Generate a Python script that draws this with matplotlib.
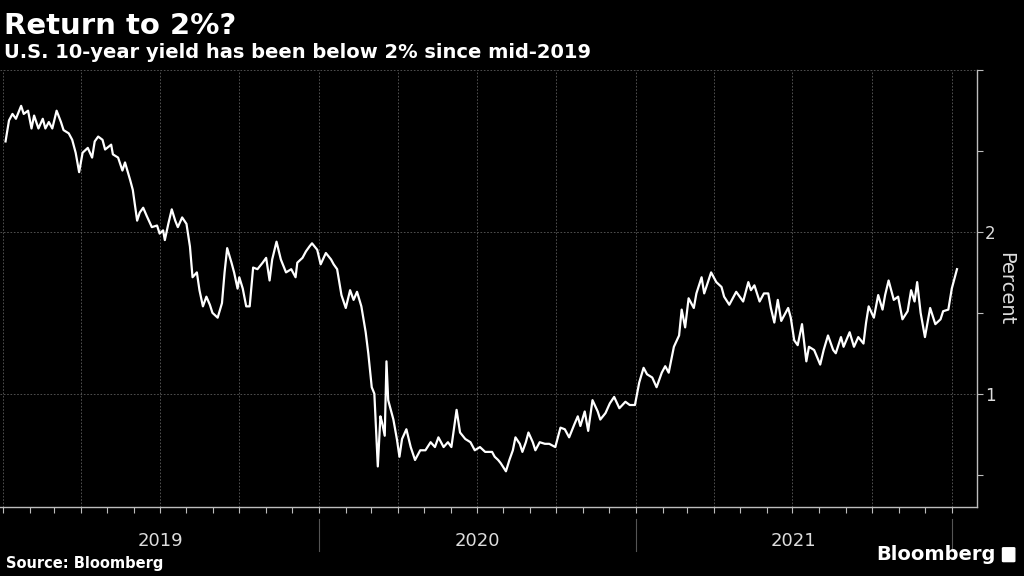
import numpy as np
import pandas as pd
import matplotlib
matplotlib.use("Agg")
import matplotlib.pyplot as plt
import matplotlib.dates as mdates
import matplotlib.transforms as mtransforms
from matplotlib.patches import FancyBboxPatch

# U.S. 10-year Treasury yield (days since 2019-01-01, percent)
days = [3, 7, 11, 15, 21, 24, 29, 33, 36, 41, 46, 49, 53, 57, 62, 67, 70, 76, 80, 84,
        88, 92, 98, 103, 106, 110, 115, 118, 125, 127, 133, 138, 141, 147, 150, 155, 158,
        162, 166, 172, 178, 181, 185, 187, 191, 195, 199, 202, 207, 212, 216, 219, 224,
        227, 231, 235, 239, 242, 248, 253, 256, 259, 264, 267, 271, 273, 277, 281, 285,
        289, 294, 300, 304, 308, 311, 316, 321, 327, 333, 338, 340, 346, 350, 354, 357,
        363, 367, 373, 379, 382, 386, 391, 396, 401, 405, 409, 414, 419, 422, 426, 429,
        433, 436, 438, 441, 443, 445, 449, 451, 455, 458, 461, 466, 471, 476, 482, 488,
        494, 499, 503, 509, 514, 518, 524, 528, 534, 540, 545, 551, 557, 565, 568, 572,
        575, 581, 585, 589, 592, 597, 600, 604, 607, 612, 615, 620, 626, 631, 638, 644,
        649, 654, 660, 664, 667, 672, 676, 681, 687, 690, 696, 701, 706, 712, 719, 724,
        730, 735, 740, 744, 750, 755, 761, 765, 769, 775, 781, 784, 788, 792, 798, 801,
        807, 810, 818, 824, 830, 833, 839, 847, 855, 861, 864, 868, 874, 879, 884, 887,
        891, 895, 899, 902, 907, 910, 914, 918, 923, 928, 931, 937, 944, 948, 953, 959,
        962, 968, 971, 978, 983, 988, 994, 997, 1000, 1006, 1011, 1016, 1019, 1023, 1029,
        1034, 1039, 1045, 1049, 1053, 1056, 1060, 1065, 1071, 1077, 1083, 1086, 1092,
        1096, 1102]
yield_pct = [2.56, 2.69, 2.73, 2.70, 2.78, 2.73, 2.75, 2.64, 2.72, 2.64, 2.70, 2.64, 2.68,
             2.64, 2.75, 2.68, 2.63, 2.61, 2.57, 2.49, 2.37, 2.49, 2.52, 2.46, 2.56, 2.59,
             2.57, 2.51, 2.54, 2.48, 2.46, 2.38, 2.43, 2.32, 2.26, 2.07, 2.12, 2.15, 2.10,
             2.03, 2.04, 1.99, 2.01, 1.95, 2.05, 2.14, 2.07, 2.03, 2.09, 2.05, 1.91, 1.72,
             1.75, 1.64, 1.54, 1.60, 1.55, 1.50, 1.47, 1.56, 1.75, 1.90, 1.81, 1.75, 1.65,
             1.72, 1.65, 1.54, 1.54, 1.78, 1.77, 1.81, 1.84, 1.70, 1.83, 1.94, 1.83, 1.75,
             1.77, 1.72, 1.81, 1.84, 1.88, 1.91, 1.93, 1.89, 1.80, 1.87, 1.83, 1.80, 1.77,
             1.61, 1.53, 1.64, 1.58, 1.63, 1.54, 1.38, 1.25, 1.04, 1.00, 0.55, 0.86, 0.82,
             0.74, 1.20, 0.96, 0.88, 0.84, 0.72, 0.61, 0.72, 0.78, 0.67, 0.59, 0.65, 0.65,
             0.70, 0.67, 0.73, 0.67, 0.70, 0.67, 0.90, 0.76, 0.72, 0.70, 0.65, 0.67, 0.64,
             0.64, 0.61, 0.59, 0.57, 0.52, 0.59, 0.65, 0.73, 0.69, 0.64, 0.70, 0.76, 0.70,
             0.65, 0.70, 0.69, 0.69, 0.67, 0.79, 0.78, 0.73, 0.81, 0.86, 0.80, 0.89, 0.77,
             0.96, 0.89, 0.84, 0.88, 0.94, 0.98, 0.91, 0.95, 0.93, 0.93, 1.07, 1.16, 1.12,
             1.10, 1.04, 1.13, 1.17, 1.13, 1.29, 1.36, 1.52, 1.41, 1.59, 1.53, 1.62, 1.72,
             1.62, 1.75, 1.69, 1.66, 1.60, 1.55, 1.63, 1.57, 1.69, 1.64, 1.67, 1.57, 1.62,
             1.62, 1.53, 1.44, 1.58, 1.45, 1.48, 1.53, 1.47, 1.33, 1.30, 1.43, 1.20, 1.29,
             1.27, 1.18, 1.27, 1.36, 1.27, 1.25, 1.35, 1.29, 1.38, 1.29, 1.35, 1.31, 1.44,
             1.54, 1.47, 1.61, 1.52, 1.61, 1.70, 1.58, 1.60, 1.46, 1.51, 1.64, 1.57, 1.69,
             1.50, 1.35, 1.53, 1.43, 1.46, 1.51, 1.52, 1.65, 1.77]

years = [2019, 2020, 2021]

title = "Return to 2%?"
subtitle = "U.S. 10-year yield has been below 2% since mid-2019"

start = pd.Timestamp("2019-01-01")
dates = start + pd.to_timedelta(days, unit="D")

bg = "black"
axis_col = "#bdbdbd"
grid_col = "#5c5c5c"
narrow = ["Liberation Sans Narrow", "DejaVu Sans"]

fig = plt.figure(figsize=(10.24, 5.76), dpi=100, facecolor=bg)
ax = fig.add_axes([0.0, 0.120, 0.954, 0.758], facecolor=bg)

ax.plot(dates, yield_pct, color="white", lw=1.6, solid_joinstyle="round")

ax.set_xlim(start - pd.Timedelta(days=3.4), start + pd.Timedelta(days=1125))
ax.set_ylim(0.3, 3.0)

# x axis: quarterly grid, monthly ticks
ax.xaxis.set_major_locator(mdates.MonthLocator(bymonth=[1, 4, 7, 10]))
ax.xaxis.set_minor_locator(mdates.MonthLocator())
ax.xaxis.set_major_formatter(plt.NullFormatter())
ax.tick_params(axis="x", which="both", direction="out", length=4, width=0.8,
               color=axis_col)

# y axis on the right
ax.yaxis.tick_right()
ax.yaxis.set_label_position("right")
ax.set_yticks([1, 2, 3])
ax.set_yticklabels(["1", "2", ""])
ax.set_yticks([0.5, 1.5, 2.5], minor=True)
ax.tick_params(axis="y", which="both", direction="out", length=4, width=0.8,
               color=axis_col, labelcolor="#dddddd", labelsize=12, pad=2)
for lab in ax.get_yticklabels():
    lab.set_family(narrow)
ax.set_ylabel("Percent", rotation=270, color="#dddddd", fontsize=14,
              labelpad=14, family=narrow)

ax.grid(True, which="major", color=grid_col, ls=(0, (2, 2)), lw=0.6)

for side in ["left", "top"]:
    ax.spines[side].set_visible(False)
for side in ["right", "bottom"]:
    ax.spines[side].set_color(axis_col)
    ax.spines[side].set_linewidth(1.0)

# year labels and separators below the axis
trans = mtransforms.blended_transform_factory(ax.transData, ax.transAxes)
for yr in years:
    mid = pd.Timestamp(f"{yr}-07-02")
    ax.text(mid, -0.078, str(yr), transform=trans, ha="center", va="center",
            color="#dddddd", fontsize=13, family=narrow)
for yr in years[1:] + [years[-1] + 1]:
    x0 = pd.Timestamp(f"{yr}-01-01")
    ax.plot([x0, x0], [-0.027, -0.101], transform=trans, color="#555555",
            lw=0.8, clip_on=False)

fig.text(0.004, 0.955, title, color="white", fontsize=21, fontweight="bold",
         va="center", ha="left", family=narrow)
fig.text(0.004, 0.908, subtitle, color="white", fontsize=14, fontweight="bold",
         va="center", ha="left")
fig.text(0.006, 0.021, "Source: Bloomberg", color="white", fontsize=10.5,
         fontweight="bold", va="center", ha="left", family=narrow)
fig.text(0.972, 0.037, "Bloomberg", color="white", fontsize=14, fontweight="bold",
         va="center", ha="right", family=narrow)
fig.patches.append(FancyBboxPatch((0.980, 0.026), 0.010, 0.022,
                                  boxstyle="round,pad=0.001", transform=fig.transFigure,
                                  facecolor="white", edgecolor="white"))

fig.savefig("out.png", dpi=100, facecolor=bg)
